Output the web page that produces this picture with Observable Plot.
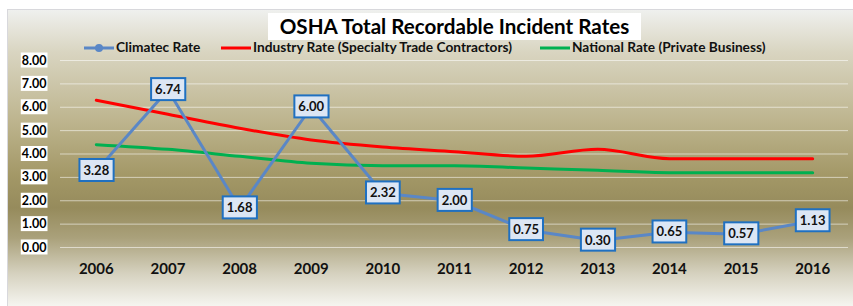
<!DOCTYPE html>
<html>
<head>
<meta charset="utf-8">
<script src="https://cdn.jsdelivr.net/npm/d3@7"></script>
<script src="https://cdn.jsdelivr.net/npm/@observablehq/plot@0.6"></script>
<style>
  html, body { margin: 0; padding: 0; background: #fff; }
  #wrap { position: relative; width: 853px; height: 306px; overflow: hidden; font-family: Lato, "Open Sans", sans-serif; }
  #bg { position: absolute; left: 7px; top: 9px; width: 850px; height: 300px; border: 1px solid #d8d8dc;
        background: linear-gradient(to bottom, #eff0ee 0%, #d9d5c1 14%, #bcb38c 38%, #a39867 55%, #968b5c 66%, #aaa17b 76%, #d6d2c0 88%, #f9f9f6 100%); }
  #plot { position: absolute; left: 0; top: 0; }
  #title { position: absolute; left: 268px; top: 13px; width: 373px; height: 27px; background: #fff;
           font-weight: 700; font-size: 20.6px; line-height: 27px; text-align: center; color: #000; white-space: nowrap; }
  .leg { position: absolute; top: 40px; height: 14px; font-weight: 700; font-size: 13.7px; line-height: 14px; color: #111; white-space: nowrap; }
  .leg svg { vertical-align: middle; margin-right: 2px; }
</style>
</head>
<body>
<div id="wrap">
  <div id="bg"></div>
  <div id="plot"></div>
  <div id="title">OSHA Total Recordable Incident Rates</div>
  <div class="leg" style="left:84px"><svg width="30" height="10"><line x1="0" y1="5" x2="30" y2="5" stroke="#5a87c6" stroke-width="3"/><circle cx="15" cy="5" r="4" fill="#5a87c6"/></svg>Climatec Rate</div>
  <div class="leg" style="left:221px"><svg width="30" height="10"><line x1="0" y1="5" x2="30" y2="5" stroke="#ff0000" stroke-width="3"/></svg>Industry Rate (Specialty Trade Contractors)</div>
  <div class="leg" style="left:540px"><svg width="30" height="10"><line x1="0" y1="5" x2="30" y2="5" stroke="#00b050" stroke-width="3"/></svg>National Rate (Private Business)</div>
</div>
<script>
const years = [2006, 2007, 2008, 2009, 2010, 2011, 2012, 2013, 2014, 2015, 2016];
const climatec = [3.28, 6.74, 1.68, 6.00, 2.32, 2.00, 0.75, 0.30, 0.65, 0.57, 1.13];
const industry = [6.3, 5.7, 5.1, 4.6, 4.3, 4.1, 3.9, 4.2, 3.8, 3.8, 3.8];
const national = [4.4, 4.2, 3.9, 3.6, 3.5, 3.5, 3.4, 3.3, 3.2, 3.2, 3.2];
const yTicks = [0, 1, 2, 3, 4, 5, 6, 7, 8];

const rows = (vals) => years.map((y, i) => ({year: y, value: vals[i]}));
const cData = rows(climatec), iData = rows(industry), nData = rows(national);

const chart = Plot.plot({
  width: 853,
  height: 306,
  marginLeft: 60,
  marginRight: 5,
  marginTop: 60,
  marginBottom: 59,
  style: {background: "transparent", fontFamily: "Lato, 'Open Sans', sans-serif", color: "#111"},
  x: {domain: [2005.5, 2016.5], label: null},
  y: {domain: [0, 8], label: null},
  marks: [
    Plot.ruleY(yTicks, {stroke: "#ffffff", strokeOpacity: 0.55, strokeWidth: 1}),
    Plot.axisY(yTicks, {tickFormat: ".2f", tickSize: 0, tickPadding: 14, fontSize: 12.5, fontWeight: "bold", fill: "#000", label: null, className: "yax"}),
    Plot.axisX(years, {tickFormat: "d", tickSize: 0, tickPadding: 16, fontSize: 15, fontWeight: "bold", fill: "#111", label: null}),
    Plot.line(iData, {x: "year", y: "value", stroke: "#ff0000", strokeWidth: 3, curve: "monotone-x"}),
    Plot.line(nData, {x: "year", y: "value", stroke: "#00b050", strokeWidth: 3, curve: "monotone-x"}),
    Plot.line(cData, {x: "year", y: "value", stroke: "#5a87c6", strokeWidth: 3}),
    Plot.dot(cData, {x: "year", y: "value", r: 4, fill: "#5a87c6"}),
    Plot.text(cData, {x: "year", y: "value", text: d => d.value.toFixed(2), fontSize: 13, fontWeight: "bold", fill: "#111", className: "clab"})
  ]
});
document.getElementById("plot").appendChild(chart);

function boxify(sel, padX, padY, fill, stroke, sw) {
  chart.querySelectorAll(sel).forEach(t => {
    const b = t.getBBox();
    const r = document.createElementNS("http://www.w3.org/2000/svg", "rect");
    r.setAttribute("x", b.x - padX);
    r.setAttribute("y", b.y - padY);
    r.setAttribute("width", b.width + 2 * padX);
    r.setAttribute("height", b.height + 2 * padY);
    r.setAttribute("fill", fill);
    if (stroke) { r.setAttribute("stroke", stroke); r.setAttribute("stroke-width", sw); }
    const tr = t.getAttribute("transform");
    if (tr) r.setAttribute("transform", tr);
    t.parentNode.insertBefore(r, t);
  });
}
boxify(".yax text", 1, 0, "#ffffff", null, 0);
boxify(".clab text", 4, 3, "#dce6f4", "#1f70c1", 2);
</script>
</body>
</html>
